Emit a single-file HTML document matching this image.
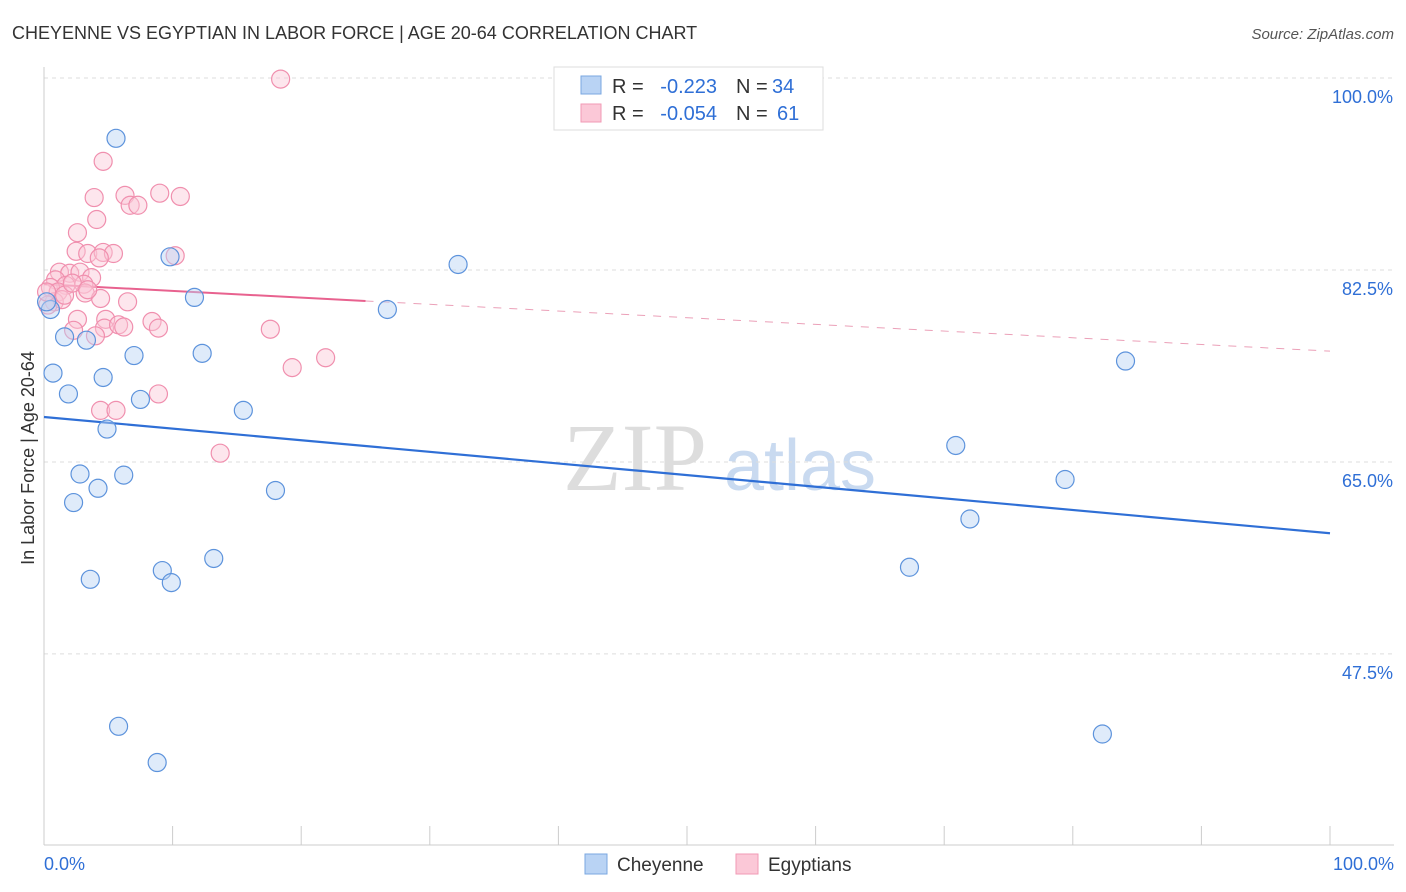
<!DOCTYPE html>
<html><head><meta charset="utf-8"><style>
body{margin:0;background:#fff;font-family:"Liberation Sans",sans-serif}
svg{display:block}
</style></head><body>
<svg id="chart" width="1406" height="892">
<text x="12" y="39" font-size="18" fill="#333">CHEYENNE VS EGYPTIAN IN LABOR FORCE | AGE 20-64 CORRELATION CHART</text>
<text x="1394" y="39" font-size="15" fill="#555" text-anchor="end" font-style="italic">Source: ZipAtlas.com</text>
<text x="34" y="458" font-size="18" fill="#333" text-anchor="middle" transform="rotate(-90 34 458)">In Labor Force | Age 20-64</text>
<g><text x="635" y="490" font-size="96" fill="#ddd" text-anchor="middle" font-family="Liberation Serif,serif">ZIP</text><text x="800" y="490" font-size="72" fill="#c9daf0" text-anchor="middle">atlas</text></g>
<g id="grid"></g><g id="axes"></g><g id="trend"></g><g id="pts"></g>
<g>
<rect x="554" y="67" width="269" height="63" fill="#fff" stroke="#ddd"/>
<rect x="581" y="76" width="20" height="18" fill="#b9d3f4" stroke="#7aa7e0"/>
<rect x="581" y="104" width="20" height="18" fill="#fbc8d7" stroke="#f29ab4"/>
<g font-size="20" fill="#333">
<text x="612" y="93">R =</text><text x="717" y="93" text-anchor="end" fill="#2f6fd6">-0.223</text>
<text x="736" y="93">N =</text><text x="772" y="93" fill="#2f6fd6">34</text>
<text x="612" y="120">R =</text><text x="717" y="120" text-anchor="end" fill="#2f6fd6">-0.054</text>
<text x="736" y="120">N =</text><text x="777" y="120" fill="#2f6fd6">61</text>
</g>
</g>
<g>
<rect x="585" y="854" width="22" height="20" fill="#b9d3f4" stroke="#7aa7e0"/>
<text x="617" y="871" font-size="19" fill="#333">Cheyenne</text>
<rect x="736" y="854" width="22" height="20" fill="#fbc8d7" stroke="#f29ab4"/>
<text x="768" y="871" font-size="19" fill="#333">Egyptians</text>
</g>
</svg>
<script>
const yTicks=[100,82.5,65,47.5];
const yTickLabels=["100.0%","82.5%","65.0%","47.5%"];
const xEndLabels=["0.0%","100.0%"];
const cheyX=[5.6,9.8,11.7,32.2,26.7,1.6,3.3,7.0,12.3,0.7,4.6,1.9,7.5,15.5,4.9,2.8,6.2,4.2,2.3,18.0,13.2,9.2,9.9,3.6,5.8,8.8,70.9,79.4,72.0,67.3,84.1,82.3,0.5,0.2];
const cheyY=[94.5,83.7,80.0,83.0,78.9,76.4,76.1,74.7,74.9,73.1,72.7,71.2,70.7,69.7,68.0,63.9,63.8,62.6,61.3,62.4,56.2,55.1,54.0,54.3,40.9,37.6,66.5,63.4,59.8,55.4,74.2,40.2,78.9,79.6];
const egyX=[18.4,4.6,3.9,6.3,9.0,10.6,6.7,7.3,4.1,2.6,2.5,3.4,4.6,5.4,4.3,10.2,1.2,2.0,2.8,3.7,0.9,1.7,3.1,0.5,1.1,3.2,4.4,6.5,0.8,1.4,2.6,4.8,8.4,0.3,2.3,4.7,5.8,6.2,8.9,17.6,4.0,19.3,21.9,4.4,5.6,8.9,13.7,1.6,2.2,3.4,0.2];
const egyY=[99.9,92.4,89.1,89.3,89.5,89.2,88.4,88.4,87.1,85.9,84.2,84.0,84.1,84.0,83.6,83.8,82.3,82.2,82.3,81.8,81.6,81.1,81.2,80.9,80.5,80.4,79.9,79.6,79.6,79.8,78.0,78.0,77.8,79.3,77.0,77.2,77.5,77.3,77.2,77.1,76.5,73.6,74.5,69.7,69.7,71.2,65.8,80.2,81.3,80.7,80.5];
const cheyTrend=[69.1,58.5];
const egyTrend=[81.2,75.1];
const egySolidEnd=25;
const NS="http://www.w3.org/2000/svg";
const sx=v=>44+v*12.86, sy=v=>78+(100-v)*10.97;
function mk(tag,attrs,parent){const e=document.createElementNS(NS,tag);for(const k in attrs)e.setAttribute(k,attrs[k]);document.getElementById(parent).appendChild(e);return e;}
yTicks.forEach((t,i)=>{
 const l=mk('line',{x1:44,x2:1394,y1:sy(t),y2:sy(t),stroke:'#ddd','stroke-dasharray':'4,4'},'grid');
 
 
 const tx=mk('text',{x:1393,y:sy(t)+25,'font-size':18,fill:'#2f6fd6','text-anchor':'end'},'grid');
 tx.textContent=yTickLabels[i];
 
 
});
mk('line',{x1:44,x2:44,y1:67,y2:845,stroke:'#ccc'},'axes');
mk('line',{x1:44,x2:1394,y1:845,y2:845,stroke:'#ccc'},'axes');
for(let i=0;i<=10;i++){const l=mk('line',{x1:sx(i*10),x2:sx(i*10),y1:826,y2:845,stroke:'#ccc'},'axes');
 
 }
[[0,'start',44],[100,'end',1394]].forEach((d,i)=>{const t=mk('text',{x:d[2],y:870,'font-size':18,fill:'#2f6fd6','text-anchor':d[1]},'axes');t.textContent=xEndLabels[i];
 
 });
function pts(X,Y,fill,stroke,name){X.forEach((x,i)=>{const c=mk('circle',{cx:sx(x),cy:sy(Y[i]),r:9,fill:fill,'fill-opacity':0.45,stroke:stroke,'stroke-width':1.2},'pts');
 
 });}
pts(egyX,egyY,'#fbc8d7','#f08fae','egyptians-point');
pts(cheyX,cheyY,'#b9d3f4','#5d93dc','cheyenne-point');
const bt=mk('line',{x1:sx(0),y1:sy(cheyTrend[0]),x2:sx(100),y2:sy(cheyTrend[1]),stroke:'#2f6fd6','stroke-width':2.2},'trend');


const pe=egyTrend[0]+(egyTrend[1]-egyTrend[0])*egySolidEnd/100;
const ps=mk('line',{x1:sx(0),y1:sy(egyTrend[0]),x2:sx(egySolidEnd),y2:sy(pe),stroke:'#e8628f','stroke-width':2},'trend');


const pd=mk('line',{x1:sx(egySolidEnd),y1:sy(pe),x2:sx(100),y2:sy(egyTrend[1]),stroke:'#eba0b8','stroke-width':1,'stroke-dasharray':'8,8'},'trend');


</script>
</body></html>
